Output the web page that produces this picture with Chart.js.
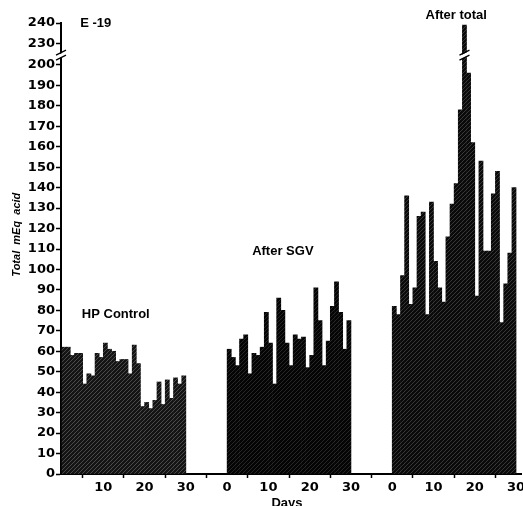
<!DOCTYPE html>
<html>
<head>
<meta charset="utf-8">
<script src="https://cdn.jsdelivr.net/npm/chart.js@4"></script>
<style>
  html, body { margin: 0; padding: 0; background: #fff; }
  #wrap { width: 523px; height: 506px; }
</style>
</head>
<body>
<div id="wrap"><canvas id="acidChart" width="523" height="506"></canvas></div>
<script>
// daily total mEq acid, 30 days per period
const hpControl  = [62, 62, 58, 59, 59, 44, 49, 48, 59, 57, 64, 61, 60, 55, 56, 56, 49, 63, 54, 33, 35, 32, 36, 45, 34, 46, 37, 47, 44, 48];
const afterSGV   = [61, 57, 53, 66, 68, 49, 59, 58, 62, 79, 64, 44, 86, 80, 64, 53, 68, 66, 67, 52, 58, 91, 75, 53, 65, 82, 94, 79, 61, 75];
const afterTotal = [82, 78, 97, 136, 83, 91, 126, 128, 78, 133, 104, 91, 84, 116, 132, 142, 178, 239, 196, 162, 87, 153, 109, 109, 137, 148, 74, 93, 108, 140];

const periodNames  = ['HP Control', 'After SGV', 'After total'];
const periodStarts = [0, 40, 80];            // day offset of each period on the shared axis

const xTickValues = [10, 20, 30, 40, 50, 60, 70, 80, 90, 100, 110];
const xTickLabels = ['10', '20', '30', '0', '10', '20', '30', '0', '10', '20', '30'];

const yTickLabels = [0, 10, 20, 30, 40, 50, 60, 70, 80, 90, 100, 110, 120, 130, 140, 150, 160, 170, 180, 190, 200, 230, 240];
const yBreakShift = 19.5;                   // 230 sits where 210.5 would be

function toAxis(v) { return v > 200 ? v - yBreakShift : v; }
function fromAxis(v) { return v > 200 ? v + yBreakShift : v; }

const ctx = document.getElementById('acidChart').getContext('2d');

function makeHatch(bg, fg) {
    const c = document.createElement('canvas');
    c.width = 4; c.height = 4;
    const g = c.getContext('2d');
    g.fillStyle = bg;
    g.fillRect(0, 0, 4, 4);
    g.strokeStyle = fg;
    g.lineWidth = 1;
    g.beginPath();
    g.moveTo(0, 4); g.lineTo(4, 0);
    g.moveTo(-1, 1); g.lineTo(1, -1);
    g.moveTo(3, 5); g.lineTo(5, 3);
    g.stroke();
    return ctx.createPattern(c, 'repeat');
}
const hatches = [makeHatch('#141414', '#4a4a4a'), makeHatch('#050505', '#262626'), makeHatch('#0a0a0a', '#383838')];

const series = [hpControl, afterSGV, afterTotal];
const points = [];
const fills = [];
series.forEach((vals, p) => {
    vals.forEach((v, i) => {
        points.push({ x: periodStarts[p] + i + 0.5, y: toAxis(v) });
        fills.push(hatches[p]);
    });
});

const font = 'DejaVu Sans';

const labelsPlugin = {
    id: 'labels',
    afterDraw(chart) {
        const c = chart.ctx;
        const xs = chart.scales.x, ys = chart.scales.y;
        const bx = ys.getPixelForValue(205.3);

        // axis break marks
        function breakMark(x) {
            c.save();
            c.fillStyle = '#fff';
            c.beginPath();
            c.moveTo(x - 5, bx + 2); c.lineTo(x + 5, bx - 3);
            c.lineTo(x + 5, bx + 1); c.lineTo(x - 5, bx + 6);
            c.closePath(); c.fill();
            c.strokeStyle = '#000';
            c.lineWidth = 1.3;
            c.beginPath();
            c.moveTo(x - 5, bx + 1); c.lineTo(x + 5, bx - 4);
            c.moveTo(x - 5, bx + 6); c.lineTo(x + 5, bx + 1);
            c.stroke();
            c.restore();
        }
        breakMark(chart.chartArea.left);
        const peakIdx = afterTotal.indexOf(Math.max(...afterTotal));
        breakMark(xs.getPixelForValue(periodStarts[2] + peakIdx + 0.5));

        c.save();
        c.fillStyle = '#000';
        c.textBaseline = 'middle';
        c.font = 'bold 13px "Liberation Sans"';
        c.textAlign = 'left';
        c.fillText('E -19', xs.getPixelForValue(4.4), ys.getPixelForValue(toAxis(240)));
        c.fillText(periodNames[0], xs.getPixelForValue(4.8), ys.getPixelForValue(78));
        c.textAlign = 'center';
        c.fillText(periodNames[1], xs.getPixelForValue(53.5), ys.getPixelForValue(109));
        c.fillText(periodNames[2], xs.getPixelForValue(95.5), 15);
        c.fillText('Days', xs.getPixelForValue(54.5), 503);

        c.translate(17, ys.getPixelForValue(117));
        c.rotate(-Math.PI / 2);
        c.font = 'italic bold 11px "Liberation Sans"';
        c.fillText('Total  mEq  acid', 0, 0);
        c.restore();
    }
};

new Chart(ctx, {
    type: 'bar',
    data: {
        datasets: [{
            data: points,
            backgroundColor: fills,
            borderWidth: 0,
            categoryPercentage: 1,
            barPercentage: 1
        }]
    },
    options: {
        responsive: false,
        animation: false,
        layout: { padding: { top: 23, right: 2, left: 0, bottom: 0 } },
        plugins: { legend: { display: false }, tooltip: { enabled: false } },
        scales: {
            x: {
                type: 'linear',
                offset: false,
                min: -0.25,
                max: 111.2,
                afterBuildTicks(scale) { scale.ticks = xTickValues.map(v => ({ value: v })); },
                afterFit(scale) {
                    scale.height = 32;
                    scale.paddingLeft = 0;
                    scale.paddingRight = 0;
                },
                ticks: {
                    color: '#000',
                    font: { family: font, weight: 'bold', size: 13 },
                    padding: 2,
                    maxRotation: 0,
                    autoSkip: false,
                    callback(value) { return xTickLabels[xTickValues.indexOf(value)]; }
                },
                grid: { drawOnChartArea: false, tickLength: 4, tickColor: '#000', tickWidth: 1.5 },
                border: { color: '#000', width: 2 }
            },
            y: {
                min: 0,
                max: toAxis(240),
                afterBuildTicks(scale) { scale.ticks = yTickLabels.map(v => ({ value: toAxis(v) })); },
                afterFit(scale) { scale.width = 61; },
                ticks: {
                    color: '#000',
                    font: { family: font, weight: 'bold', size: 13 },
                    padding: 1,
                    autoSkip: false,
                    callback(value) { return String(Math.round(fromAxis(value))); }
                },
                grid: { drawOnChartArea: false, tickLength: 5, tickColor: '#000', tickWidth: 1.5 },
                border: { color: '#000', width: 2 }
            }
        }
    },
    plugins: [labelsPlugin]
});
</script>
</body>
</html>
